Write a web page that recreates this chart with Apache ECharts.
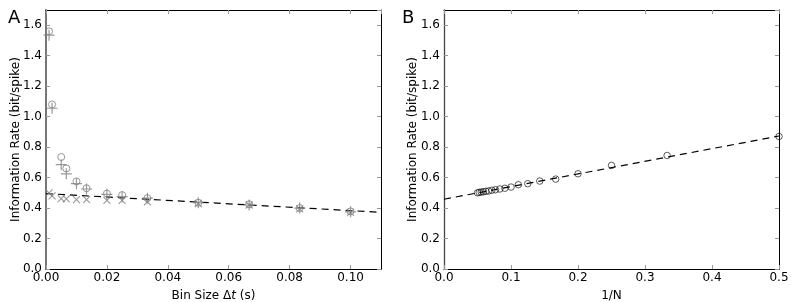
<!DOCTYPE html>
<html><head><meta charset="utf-8">
<script src="https://cdn.jsdelivr.net/npm/echarts@6/dist/echarts.min.js"></script>
<style>html,body{margin:0;padding:0;background:#fff}#c{width:792px;height:302px}</style>
</head><body><div id="c"></div>
<script>
// Panel A: bin size (s)
const binSizes = [0.001, 0.002, 0.005, 0.00667, 0.01, 0.0133, 0.02, 0.025, 0.0333, 0.05, 0.0667, 0.0833, 0.1];
const rateCircle = [1.56, 1.08, 0.735, 0.66, 0.575, 0.53, 0.495, 0.485, 0.465, 0.435, 0.425, 0.40, 0.378];
const ratePlus   = [1.535, 1.055, 0.685, 0.625, 0.56, 0.525, 0.49, 0.475, 0.465, 0.435, 0.42, 0.40, 0.375];
const rateCross  = [0.50, 0.48, 0.462, 0.46, 0.455, 0.455, 0.45, 0.45, 0.44, 0.43, 0.42, 0.395, 0.372];
const fitA = [[0, 0.495], [0.11, 0.372]];
// Panel B: 1/N
const invN = [0.05, 0.0526, 0.0556, 0.0588, 0.0625, 0.0667, 0.0714, 0.0769, 0.0833, 0.0909, 0.1, 0.111, 0.125, 0.1429, 0.1667, 0.2, 0.25, 0.333, 0.5];
const rateB = [0.50, 0.503, 0.505, 0.507, 0.51, 0.512, 0.517, 0.52, 0.525, 0.53, 0.538, 0.553, 0.56, 0.577, 0.59, 0.625, 0.68, 0.745, 0.87];
const fitB = [[0, 0.458], [0.5, 0.873]];
const yTicksMax = 1.7;

const font = 'DejaVu Sans';
const zip = (xs, ys) => xs.map((x, i) => [x, ys[i]]);
const chart = echarts.init(document.getElementById('c'), null, {renderer: 'canvas'});

function xAx(grid, max, interval, dec, pos, name, showMax) {
  const main = pos === 'bottom';
  return {
    type: 'value', gridIndex: grid, position: pos, min: 0, max: max, interval: interval,
    name: main ? name : '', nameLocation: 'middle', nameGap: 21, nameMoveOverlap: false,
    nameTextStyle: {fontFamily: font, fontSize: 12, color: '#000',
      rich: {i: {fontFamily: font, fontSize: 12, fontStyle: 'italic', color: '#000'}}},
    axisLine: {show: true, onZero: false, lineStyle: {color: '#000', width: 1}},
    axisTick: {show: true, inside: true, length: 4, lineStyle: {color: '#999', width: 1}},
    axisLabel: {show: main, margin: 3, fontFamily: font, fontSize: 12, color: '#000',
      showMaxLabel: !!showMax, formatter: v => v.toFixed(dec)},
    splitLine: {show: false}
  };
}
function yAx(grid, pos, leftColor, leftWidth, gap) {
  const main = pos === 'left';
  return {
    type: 'value', gridIndex: grid, position: pos, min: 0, max: yTicksMax, interval: 0.2,
    name: main ? 'Information Rate (bit/spike)' : '', nameLocation: 'middle', nameGap: gap, nameMoveOverlap: false,
    nameTextStyle: {fontFamily: font, fontSize: 12, color: '#000'},
    axisLine: {show: true, onZero: false, lineStyle: {color: main ? leftColor : '#000', width: main ? leftWidth : 1}},
    axisTick: {show: true, inside: true, length: 4, lineStyle: {color: '#999', width: 1}},
    axisLabel: {show: main, margin: 4, fontFamily: font, fontSize: 12, color: '#000',
      showMaxLabel: false, formatter: v => v.toFixed(1)},
    splitLine: {show: false}
  };
}
const plusPath = 'path://M5,0L5,10M0,5L10,5';
const crossPath = 'path://M0,0L10,10M10,0L0,10';

chart.setOption({
  animation: false,
  title: [
    {text: 'A', left: 8, top: 9, padding: 0, textStyle: {fontFamily: font, fontSize: 18, fontWeight: 'normal', color: '#000'}},
    {text: 'B', left: 402, top: 9, padding: 0, textStyle: {fontFamily: font, fontSize: 18, fontWeight: 'normal', color: '#000'}}
  ],
  grid: [
    {left: 46, top: 10, width: 335, height: 259, outerBoundsMode: 'none'},
    {left: 444, top: 10, width: 335, height: 259, outerBoundsMode: 'none'}
  ],
  xAxis: [
    xAx(0, 0.11, 0.02, 2, 'bottom', 'Bin Size Δ{i|t} (s)', false),
    xAx(0, 0.11, 0.02, 2, 'top', ''),
    xAx(1, 0.5, 0.1, 1, 'bottom', '1/N', true),
    xAx(1, 0.5, 0.1, 1, 'top', '')
  ],
  yAxis: [
    yAx(0, 'left', '#777', 2, 24),
    yAx(0, 'right'),
    yAx(1, 'left', '#444', 1.3, 25),
    yAx(1, 'right')
  ],
  series: [
    {type: 'line', xAxisIndex: 0, yAxisIndex: 0, data: fitA, showSymbol: false, symbol: 'none',
      lineStyle: {color: '#000', width: 1.2, type: [7, 5]}, z: 1},
    {type: 'scatter', xAxisIndex: 0, yAxisIndex: 0, data: zip(binSizes, rateCircle), symbol: 'circle', symbolSize: 7,
      itemStyle: {color: 'none', borderColor: '#808080', borderWidth: 1}, z: 2},
    {type: 'scatter', xAxisIndex: 0, yAxisIndex: 0, data: zip(binSizes, ratePlus), symbol: plusPath, symbolSize: 11,
      itemStyle: {color: 'none', borderColor: '#808080', borderWidth: 1.2}, z: 3},
    {type: 'scatter', xAxisIndex: 0, yAxisIndex: 0, data: zip(binSizes, rateCross), symbol: crossPath, symbolSize: 7,
      itemStyle: {color: 'none', borderColor: '#808080', borderWidth: 1.1}, z: 3},
    {type: 'line', xAxisIndex: 2, yAxisIndex: 2, data: fitB, showSymbol: false, symbol: 'none',
      lineStyle: {color: '#000', width: 1.2, type: [7, 5]}, z: 1},
    {type: 'scatter', xAxisIndex: 2, yAxisIndex: 2, data: zip(invN, rateB), symbol: 'circle', symbolSize: 6.5,
      itemStyle: {color: 'none', borderColor: '#000', borderWidth: 0.8}, z: 2}
  ]
});
</script></body></html>
